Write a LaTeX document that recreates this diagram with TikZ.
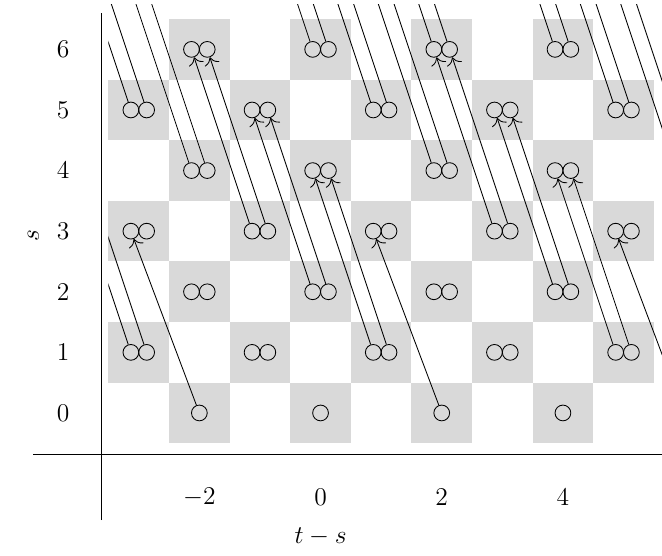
\documentclass[tikz,border=0pt]{standalone}
\usepackage{amsmath}
\usepackage{tikz}
\usetikzlibrary{arrows.meta}

\begin{document}
\begin{tikzpicture}[
    gen/.style={circle, draw, inner sep=0pt, minimum size=0.26cm},
    cell/.style={fill=black!15},
    diff/.style={-{To[scale=1.4]}},
    lbl/.style={font=\large}
]
\useasboundingbox (-5.29,-2.36) rectangle (5.635,6.815);

% shaded squares
\foreach \y in {0,2,4,6}
  \foreach \x in {-2,0,2,4}
    \fill[cell] (\x-0.5,\y-0.5) rectangle (\x+0.5,\y+0.5);
\foreach \y in {1,3,5}
  \foreach \x in {-3,-1,...,5}
    \fill[cell] (\x-0.5,\y-0.5) rectangle (\x+0.5,\y+0.5);

% axes
\draw (-4.74,-0.69) -- (5.635,-0.69);
\draw (-3.62,-1.77) -- (-3.62,6.6);

% generators
\foreach \x in {-2,0,2,4}
  \node[gen] (C\x_0) at (\x,0) {};
\foreach \y in {2,4,6}
  \foreach \x in {-2,0,2,4} {
    \node[gen] (L\x_\y) at (\x-0.13,\y) {};
    \node[gen] (R\x_\y) at (\x+0.13,\y) {};
  }
\foreach \y in {1,3,5}
  \foreach \x in {-3,-1,...,5} {
    \node[gen] (L\x_\y) at (\x-0.13,\y) {};
    \node[gen] (R\x_\y) at (\x+0.13,\y) {};
  }

% ends outside the chart
\coordinate (C6_0) at (6,0);
\foreach \x/\y in {-4/4,-3/7,1/7,5/7,6/4,-4/8,0/8,4/8,-1/9,1/9,3/9} {
  \coordinate (L\x_\y) at (\x-0.13,\y);
  \coordinate (R\x_\y) at (\x+0.13,\y);
}

% d3 differentials
\begin{scope}
\clip (-3.5,-0.5) rectangle (5.635,6.74);
\draw[diff] (C-2_0) -- (L-3_3);
\draw[diff] (C2_0) -- (L1_3);
\draw[diff] (C6_0) -- (L5_3);
\foreach \x/\y in {-3/1,1/1,5/1,0/2,4/2,-1/3,3/3,-2/4,2/4,6/4,-3/5,1/5,5/5,0/6,2/6,4/6} {
  \pgfmathtruncatemacro\tx{\x-1}
  \pgfmathtruncatemacro\ty{\y+3}
  \draw[diff] (L\x_\y) -- (L\tx_\ty);
  \draw[diff] (R\x_\y) -- (R\tx_\ty);
}
\end{scope}

% labels
\foreach \y in {0,...,6}
  \node[lbl] (s\y) at (-4.25,\y) {$\y$};
\foreach \x in {-2,0,2,4}
  \node[lbl] (t\x) at (\x,-1.39) {$\x$};
\node[lbl] (tlabel) at (0,-2.05) {$t-s$};
\node[lbl, rotate=90] (slabel) at (-4.74,2.92) {$s$};

\end{tikzpicture}
\end{document}
